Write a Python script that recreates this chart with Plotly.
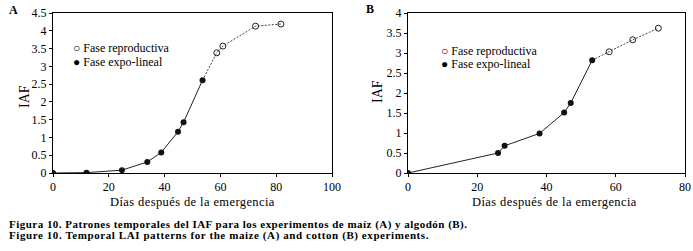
import plotly.graph_objects as go

# Panel A (maíz)
a_expo_x = [0, 12, 24.7, 33.8, 38.8, 44.8, 46.8, 53.6]
a_expo_y = [0, 0.01, 0.08, 0.31, 0.58, 1.16, 1.43, 2.61]
a_repr_x = [58.7, 60.9, 72.6, 81.7]
a_repr_y = [3.38, 3.57, 4.13, 4.19]

# Panel B (algodón)
b_expo_x = [0, 26.0, 27.9, 38.0, 45.1, 47.0, 53.2]
b_expo_y = [0, 0.50, 0.68, 0.99, 1.51, 1.75, 2.82]
b_repr_x = [58.1, 64.9, 72.3]
b_repr_y = [3.03, 3.33, 3.62]

W, H = 693, 251
SERIF = "Liberation Serif"

def fx(px):
    return px / W

def fy(py):
    return 1 - py / H

fig = go.Figure()

def add_panel(xa, ya, ex, ey, rx, ry):
    fig.add_trace(go.Scatter(x=ex, y=ey, mode="lines", line=dict(color="#222", width=1),
                             xaxis=xa, yaxis=ya, showlegend=False, hoverinfo="skip"))
    fig.add_trace(go.Scatter(x=[ex[-1]] + rx, y=[ey[-1]] + ry, mode="lines",
                             line=dict(color="#444", width=1, dash="2px,1.5px"),
                             xaxis=xa, yaxis=ya, showlegend=False, hoverinfo="skip"))
    fig.add_trace(go.Scatter(x=rx, y=ry, mode="markers", name="Fase reproductiva",
                             marker=dict(symbol="circle-open", size=6, color="#222", line=dict(width=1)),
                             xaxis=xa, yaxis=ya, showlegend=False))
    fig.add_trace(go.Scatter(x=ex, y=ey, mode="markers", name="Fase expo-lineal",
                             marker=dict(symbol="circle", size=6, color="#111"),
                             xaxis=xa, yaxis=ya, showlegend=False))

add_panel("x", "y", a_expo_x, a_expo_y, a_repr_x, a_repr_y)
add_panel("x2", "y2", b_expo_x, b_expo_y, b_repr_x, b_repr_y)

ax_common = dict(showgrid=False, zeroline=False, showline=True, linecolor="#000", linewidth=1,
                 mirror=True, ticks="outside", ticklen=3, tickcolor="#000", tickwidth=1,
                 automargin=False,
                 tickfont=dict(family=SERIF, size=12, color="#000"))

ytop, ybot = 13, 173
fig.update_layout(
    width=W, height=H, margin=dict(l=0, r=0, t=0, b=0),
    paper_bgcolor="white", plot_bgcolor="white",
    font=dict(family=SERIF),
    xaxis=dict(domain=[fx(53), fx(332)], range=[0, 100], dtick=20, anchor="y", **ax_common),
    yaxis=dict(domain=[fy(ybot), fy(ytop)], range=[0, 4.5], dtick=0.5, anchor="x", **ax_common),
    xaxis2=dict(domain=[fx(408), fx(685)], range=[0, 80], dtick=20, anchor="y2", **ax_common),
    yaxis2=dict(domain=[fy(ybot), fy(ytop)], range=[0, 4], dtick=0.5, anchor="x2", **ax_common),
    showlegend=False,
)

ann = []
def text(x, y, s, size=11, bold=False, angle=0, xanchor="center", ls=None):
    if ls is not None:
        s = f'<span style="letter-spacing:{ls}px">{s}</span>'
    ann.append(dict(x=fx(x), y=fy(y), xref="paper", yref="paper", text=(f"<b>{s}</b>" if bold else s),
                    showarrow=False, xanchor=xanchor, yanchor="middle", textangle=angle,
                    font=dict(family=SERIF, size=size, color="#000")))

text(13, 10, "A", size=12, bold=True)
text(370, 9, "B", size=12, bold=True)
text(24, 97, "IAF", size=14, angle=-90)
text(377, 92, "IAF", size=14, angle=-90)
text(192, 202, "Días después de la emergencia", size=12.5, ls=0.4)
text(554, 202, "Días después de la emergencia", size=12.5, ls=0.4)
# legends
text(71, 48, "○ Fase reproductiva", size=12, xanchor="left")
text(71, 62, "● Fase expo-lineal", size=12, xanchor="left")
text(439, 51, "○ Fase reproductiva", size=12, xanchor="left")
text(439, 64, "● Fase expo-lineal", size=12, xanchor="left")
text(7, 224, "Figura 10. Patrones temporales del IAF para los experimentos de maíz (A) y algodón (B).", size=11, bold=True, xanchor="left", ls=0.48)
text(7, 235, "Figure 10. Temporal LAI patterns for the maize (A) and cotton (B) experiments.", size=11, bold=True, xanchor="left", ls=0.58)
fig.update_layout(annotations=ann)

fig.write_html("out.html", config={"displayModeBar": False},
               post_script="document.body.style.margin='0';document.body.style.padding='0';document.documentElement.style.overflow='hidden';")
